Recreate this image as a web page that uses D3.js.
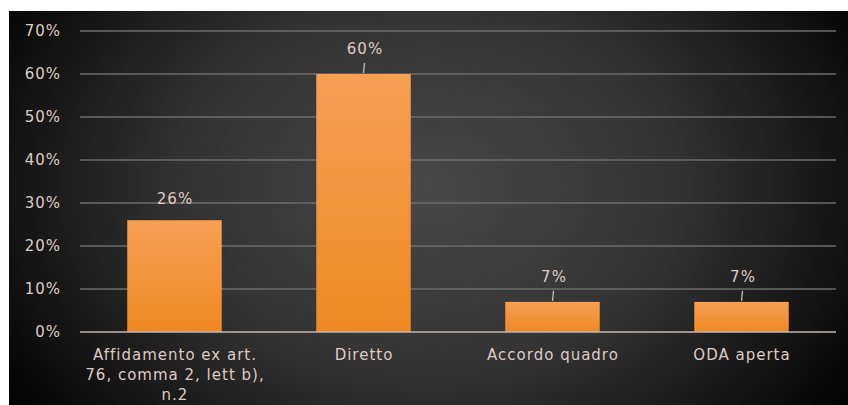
<!DOCTYPE html>
<head>
<meta charset="UTF-8">
<script src="https://d3js.org/d3.v7.min.js"></script>
<style>
	body{ margin: 0; background-color: white; }
	svg{ display: block; }
	text{ font-family: 'DejaVu Sans', sans-serif; fill: rgb(222,204,196); letter-spacing: 1px; }
</style>
</head>
<body>
<svg width=848 height=405></svg>
<script>
	// Chart data
	var categories = ["Affidamento ex art. 76, comma 2, lett b), n.2", "Diretto", "Accordo quadro", "ODA aperta"];
	var categoryLines = [["Affidamento ex art.", "76, comma 2, lett b),", "n.2"], ["Diretto"], ["Accordo quadro"], ["ODA aperta"]];
	var values = [0.26, 0.60, 0.07, 0.07];
	var yTicks = [0, 0.1, 0.2, 0.3, 0.4, 0.5, 0.6, 0.7];

	var svg = d3.select("svg");
	var defs = svg.append("defs");

	// Dark background, lighter in the middle
	var bg = defs.append("radialGradient")
		.attr("id", "bg")
		.attr("cx", "50%").attr("cy", "45%")
		.attr("r", "60%")
		.attr("gradientTransform", "translate(0.5,0.45) scale(1,1.6) translate(-0.5,-0.45)");
	bg.append("stop").attr("offset", "0%").attr("stop-color", "rgb(72,72,72)");
	bg.append("stop").attr("offset", "50%").attr("stop-color", "rgb(50,50,50)");
	bg.append("stop").attr("offset", "100%").attr("stop-color", "rgb(3,3,3)");

	var barGrad = defs.append("linearGradient")
		.attr("id", "barGrad")
		.attr("x1", 0).attr("y1", 0).attr("x2", 0).attr("y2", 1);
	barGrad.append("stop").attr("offset", "0%").attr("stop-color", "rgb(246,160,84)");
	barGrad.append("stop").attr("offset", "100%").attr("stop-color", "rgb(239,136,34)");

	svg.append("rect")
		.attr("x", 9).attr("y", 11)
		.attr("width", 839).attr("height", 394)
		.attr("fill", "url(#bg)");

	// Scales
	var x = d3.scaleBand()
		.domain(categories)
		.range([80, 836])
		.paddingInner(0.5)
		.paddingOuter(0.25);

	var y = d3.scaleLinear()
		.domain([0, 0.7])
		.range([332, 31]);

	// Gridlines
	svg.append("g")
		.selectAll("line")
		.data(yTicks.slice(1)).enter()
		.append("line")
		.attr("x1", 80).attr("x2", 836)
		.attr("y1", d => y(d)).attr("y2", d => y(d))
		.attr("stroke", "rgb(108,108,108)")
		.attr("stroke-width", 1.3);

	// Y axis labels
	svg.append("g")
		.selectAll("text")
		.data(yTicks).enter()
		.append("text")
		.attr("x", 61)
		.attr("y", d => y(d))
		.attr("dy", "0.36em")
		.attr("text-anchor", "end")
		.attr("font-size", 15)
		.text(d => d3.format(".0%")(d));

	// Bars
	svg.append("g")
		.selectAll("rect")
		.data(values).enter()
		.append("rect")
		.attr("x", (d, i) => x(categories[i]))
		.attr("y", d => y(d))
		.attr("width", x.bandwidth())
		.attr("height", d => y(0) - y(d))
		.attr("fill", "url(#barGrad)");

	// Baseline
	svg.append("line")
		.attr("x1", 80).attr("x2", 836)
		.attr("y1", y(0)).attr("y2", y(0))
		.attr("stroke", "rgb(200,180,172)")
		.attr("stroke-width", 1.5);

	// Data labels with small leader lines
	var labels = svg.append("g");
	values.forEach(function(v, i){
		var cx = x(categories[i]) + x.bandwidth()/2;
		var lift = (i == 0) ? 16 : 20;
		if(i != 0){
			labels.append("line")
				.attr("x1", cx).attr("x2", cx + 1)
				.attr("y1", y(v) - 1).attr("y2", y(v) - 11)
				.attr("stroke", "rgb(200,185,178)")
				.attr("stroke-width", 1.3);
		}
		labels.append("text")
			.attr("x", cx + (i == 0 ? 0.5 : 1.5))
			.attr("y", y(v) - lift)
			.attr("text-anchor", "middle")
			.attr("font-size", 15)
			.text(d3.format(".0%")(v));
	});

	// Category labels
	var cats = svg.append("g");
	categoryLines.forEach(function(lines, i){
		var cx = x(categories[i]) + x.bandwidth()/2 + 0.5;
		lines.forEach(function(line, j){
			cats.append("text")
				.attr("x", cx)
				.attr("y", 360 + j*20)
				.attr("text-anchor", "middle")
				.attr("font-size", 15)
				.text(line);
		});
	});
</script>
</body>
